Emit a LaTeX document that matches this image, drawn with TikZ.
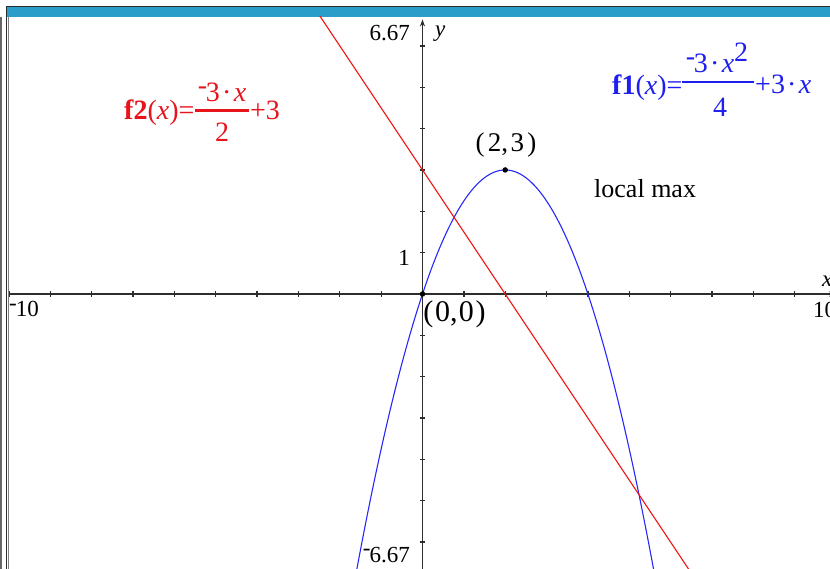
\documentclass[tikz,border=0pt]{standalone}
\usepackage{fontspec}
\setmainfont{Liberation Serif}
\usetikzlibrary{arrows.meta}
\definecolor{tiTeal}{RGB}{42,157,200}
\definecolor{fOneBlue}{RGB}{30,30,240}
\definecolor{fTwoRed}{RGB}{232,20,28}
\definecolor{curveBlue}{RGB}{40,40,250}
\definecolor{curveRed}{RGB}{240,20,20}
\definecolor{axisGray}{RGB}{45,45,45}
\newcommand{\timinus}{\raisebox{0.28em}{-}\kern-0.04em}
\newcommand{\tidot}{\kern0.08em·\kern0.08em}
\begin{document}
\begin{tikzpicture}[x=1pt,y=-1pt,
  axislbl/.style={inner sep=0pt, font=\fontsize{23}{23}\selectfont, text=black},
  ptlbl/.style={inner sep=0pt, text=black},
  fOne/.style={inner sep=0pt, font=\fontsize{28}{28}\selectfont, text=fOneBlue},
  fTwo/.style={inner sep=0pt, font=\fontsize{28}{28}\selectfont, text=fTwoRed},
  axisline/.style={draw=axisGray, line width=1.3pt},
  tickline/.style={draw=axisGray, line width=1.3pt},
  ptdot/.style={circle, fill=black, inner sep=0pt, minimum size=5.5pt},
  fracbar/.style={line width=2.2pt}]
\useasboundingbox (0,0) rectangle (830,569);
\fill[white] (0,0) rectangle (830,569);
% frame
\fill[tiTeal] (7,7.5) rectangle (830,17);
\draw[axisGray, line width=1.5pt] (6.5,569) -- (6.5,6.5) -- (830,6.5);
\draw[gray, line width=1pt] (8.5,17) -- (8.5,569);
\draw[gray!80!black, line width=1.5pt] (1,17) -- (1,569);
% graph
\begin{scope}
\clip (9,17) rectangle (830,569);
\begin{scope}[shift={(422.5pt,-294pt)}, x=41.35pt, y=41.35pt]
  \coordinate (xl) at (-10.1,0);
  \coordinate (xr) at (10.0,0);
  \coordinate (yb) at (0,-6.7);
  \coordinate (yt) at (0,6.64);
  \draw[axisline, -{Stealth[length=7pt,width=5pt]}] (xl) -- (xr);
  \draw[axisline, -{Stealth[length=7pt,width=5pt]}] (yb) -- (yt);
  \foreach \i in {-10,...,9} \draw[tickline] (\i,-0.065) -- (\i,0.065);
  \draw[tickline, line width=2pt] (-10,-0.08) -- (-10,0.08);
  \foreach \j in {-6,...,6} \draw[tickline] (-0.065,\j) -- (0.065,\j);
  \draw[curveBlue, line width=1.1pt] plot[domain=-1.65:5.65, samples=120, smooth] (\x, {-0.75*\x*\x+3*\x});
  \draw[curveRed, line width=1.1pt] (-2.55,6.825) -- (6.55,-6.825);
  \node[ptdot] (orig) at (0,0) {};
  \node[ptdot] (vtx) at (2,3) {};
\end{scope}
\end{scope}
% axis labels
\node[axislbl, anchor=base east] (ymax) at (410,41) {6.67};
\node[axislbl, anchor=base west] (ylab) at (435,37) {\textit{y}};
\node[axislbl, anchor=base east] (yone) at (410,266) {1};
\node[axislbl, anchor=base west] (xmin) at (9,317) {\timinus10};
\node[axislbl, anchor=base west] (xmax) at (813,318) {10};
\node[axislbl, anchor=base west] (xlab) at (822,287) {\textit{x}};
\node[axislbl, anchor=base east] (ymin) at (410,562) {\timinus6.67};
% point labels
\node[ptlbl, anchor=base, font=\fontsize{27}{27}\selectfont] (vtxlbl) at (506,152) {(\kern0.12em2,\kern0.1em3\kern0.12em)};
\node[ptlbl, anchor=base, font=\fontsize{30}{30}\selectfont] (origlbl) at (454.5,322) {(\kern0.06em0,\kern0.04em0\kern0.06em)};
\node[ptlbl, anchor=base west, font=\fontsize{26}{26}\selectfont] (maxlbl) at (594,198) {local max};
% f2 formula
\node[fTwo, anchor=base west] (ftwolhs) at (124,120) {{\bfseries f2}(\textit{x})=};
\coordinate (ftwobarl) at (195,110.5);
\coordinate (ftwobarr) at (249,110.5);
\draw[fracbar, fTwoRed] (ftwobarl) -- (ftwobarr);
\node[fTwo, anchor=base] (ftwonum) at (222,102) {\timinus3\tidot\textit{x}};
\node[fTwo, anchor=base] (ftwoden) at (222,142) {2};
\node[fTwo, anchor=base west] (ftworest) at (250,120) {+3};
% f1 formula
\node[fOne, anchor=base west] (fonelhs) at (612,95) {{\bfseries f1}(\textit{x})=};
\coordinate (fonebarl) at (682,82);
\coordinate (fonebarr) at (754,82);
\draw[fracbar, fOneBlue] (fonebarl) -- (fonebarr);
\node[fOne, anchor=base] (fonenum) at (717,73) {\timinus3\tidot\textit{x}\raisebox{11pt}{2}};
\node[fOne, anchor=base] (foneden) at (720,117) {4};
\node[fOne, anchor=base west] (fonerest) at (755,94) {+3\tidot\textit{x}};
\end{tikzpicture}
\end{document}
